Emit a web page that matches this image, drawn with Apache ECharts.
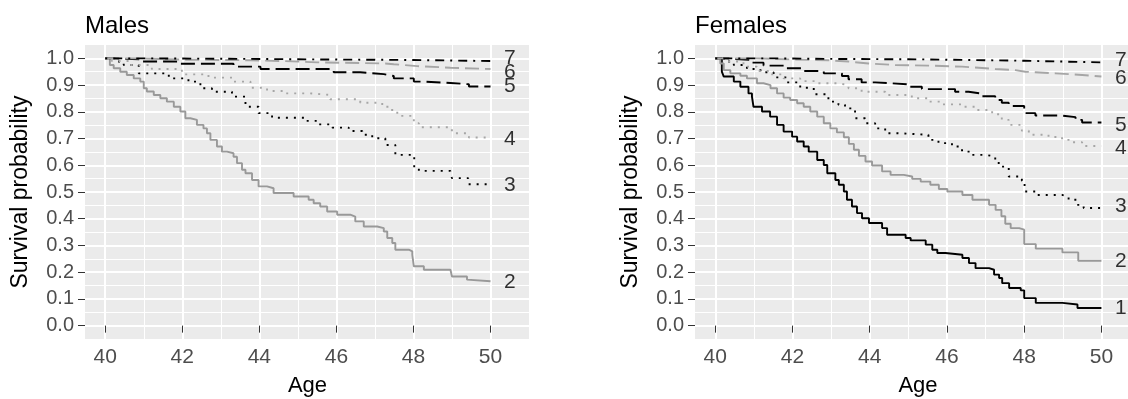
<!DOCTYPE html>
<html>
<head>
<meta charset="utf-8">
<script src="https://cdn.jsdelivr.net/npm/echarts@6/dist/echarts.min.js"></script>
<style>
  html, body { margin: 0; padding: 0; background: #fff; }
  #chart { width: 1128px; height: 399px; }
</style>
</head>
<body>
<div id="chart"></div>
<script>
// survival curves, [age, survival]
const malesG2 = [[40,1],[40.12,0.975],[40.22,0.963],[40.39,0.95],[40.56,0.938],[40.74,0.925],[40.91,0.913],[41.0,0.888],[41.08,0.876],[41.26,0.863],[41.43,0.851],[41.6,0.838],[41.78,0.819],[41.95,0.801],[42.08,0.776],[42.21,0.77],[42.38,0.751],[42.55,0.738],[42.64,0.72],[42.73,0.695],[42.9,0.67],[43.03,0.651],[43.16,0.645],[43.33,0.632],[43.42,0.608],[43.55,0.583],[43.64,0.57],[43.81,0.545],[43.98,0.521],[44.2,0.514],[44.37,0.496],[44.89,0.483],[45.28,0.471],[45.41,0.458],[45.58,0.446],[45.76,0.427],[46.02,0.415],[46.36,0.408],[46.49,0.39],[46.71,0.371],[47.06,0.365],[47.23,0.352],[47.32,0.328],[47.45,0.309],[47.53,0.284],[47.88,0.278],[47.97,0.265],[48.01,0.222],[48.27,0.209],[48.96,0.203],[49.0,0.184],[49.39,0.172],[49.44,0.166],[50,0.166]];
const malesG3 = [[40,1],[40.26,0.988],[40.48,0.975],[40.87,0.944],[41.65,0.925],[42.16,0.913],[42.47,0.888],[42.77,0.875],[43.29,0.857],[43.64,0.819],[43.98,0.795],[44.33,0.778],[45.19,0.766],[45.54,0.753],[45.89,0.741],[46.32,0.728],[46.67,0.714],[46.93,0.701],[47.27,0.676],[47.53,0.639],[48.02,0.592],[48.14,0.579],[48.96,0.57],[49.0,0.552],[49.42,0.529],[50,0.529]];
const malesG4 = [[40,1],[40.17,0.99],[40.61,0.975],[41.21,0.96],[41.99,0.94],[42.68,0.928],[43.29,0.913],[43.77,0.89],[44.2,0.878],[44.68,0.869],[45.32,0.863],[45.84,0.847],[46.62,0.834],[47.19,0.819],[47.4,0.807],[47.58,0.785],[48.01,0.757],[48.14,0.742],[48.96,0.731],[49.05,0.72],[49.44,0.704],[50,0.704]];
const malesG5 = [[40,1],[40.22,0.996],[40.91,0.988],[41.95,0.98],[43.33,0.969],[44.03,0.96],[45.93,0.948],[46.62,0.941],[47.23,0.934],[47.49,0.925],[48.01,0.913],[48.27,0.908],[48.96,0.903],[49.44,0.895],[50,0.895]];
const malesG6 = [[40,1],[40.78,0.995],[42.08,0.993],[43.77,0.99],[44.63,0.985],[45.5,0.981],[47.27,0.978],[47.49,0.971],[48.1,0.965],[48.96,0.96],[50,0.96]];
const malesG7 = [[40,1],[41.0,0.998],[43.77,0.996],[45.5,0.994],[47.9,0.99],[50,0.99]];

const femalesG1 = [[40,1],[40.17,0.95],[40.22,0.932],[40.48,0.913],[40.65,0.894],[40.86,0.869],[40.95,0.857],[40.99,0.819],[41.21,0.801],[41.42,0.782],[41.6,0.751],[41.77,0.726],[41.99,0.707],[42.12,0.689],[42.29,0.67],[42.42,0.651],[42.64,0.62],[42.81,0.601],[42.9,0.57],[43.11,0.545],[43.2,0.527],[43.33,0.502],[43.41,0.471],[43.54,0.446],[43.67,0.421],[43.8,0.402],[43.98,0.384],[44.32,0.365],[44.45,0.34],[44.93,0.328],[45.06,0.319],[45.45,0.303],[45.62,0.284],[45.75,0.272],[45.96,0.265],[46.4,0.253],[46.57,0.234],[46.74,0.215],[47.09,0.209],[47.22,0.191],[47.35,0.178],[47.43,0.159],[47.61,0.141],[47.91,0.132],[48.0,0.103],[48.3,0.085],[48.99,0.079],[49.38,0.066],[50,0.066]];
const femalesG2 = [[40,1],[40.13,0.981],[40.22,0.956],[40.39,0.944],[40.65,0.935],[40.82,0.925],[41.08,0.907],[41.25,0.9],[41.43,0.888],[41.6,0.869],[41.77,0.853],[41.94,0.844],[42.12,0.832],[42.29,0.819],[42.46,0.801],[42.64,0.782],[42.81,0.757],[42.98,0.738],[43.15,0.723],[43.33,0.705],[43.46,0.68],[43.59,0.658],[43.72,0.635],[43.89,0.614],[44.06,0.599],[44.32,0.577],[44.54,0.564],[44.88,0.558],[45.1,0.549],[45.32,0.539],[45.57,0.527],[45.79,0.511],[46.01,0.502],[46.4,0.489],[46.66,0.471],[47.09,0.452],[47.26,0.433],[47.41,0.409],[47.51,0.381],[47.65,0.365],[47.87,0.359],[48.0,0.305],[48.3,0.288],[48.99,0.274],[49.4,0.243],[50,0.243]];
const femalesG3 = [[40,1],[40.22,0.988],[40.48,0.975],[40.82,0.96],[41.17,0.948],[41.51,0.929],[41.86,0.91],[42.2,0.89],[42.55,0.866],[42.93,0.838],[43.19,0.826],[43.36,0.813],[43.62,0.776],[43.88,0.757],[44.14,0.738],[44.4,0.72],[44.74,0.714],[45.52,0.695],[45.78,0.683],[46.13,0.67],[46.39,0.651],[46.65,0.639],[46.99,0.633],[47.25,0.62],[47.34,0.595],[47.6,0.558],[47.94,0.542],[48.01,0.502],[48.29,0.489],[48.98,0.483],[49.15,0.471],[49.37,0.452],[49.54,0.44],[50,0.44]];
const femalesG4 = [[40,1],[40.22,0.988],[40.73,0.969],[41.08,0.953],[41.43,0.94],[41.77,0.925],[42.2,0.915],[42.64,0.907],[43.19,0.9],[43.45,0.888],[43.79,0.875],[44.4,0.863],[45.09,0.851],[45.52,0.838],[45.87,0.828],[46.39,0.819],[46.73,0.807],[47.17,0.791],[47.42,0.77],[47.6,0.751],[47.94,0.729],[48.12,0.714],[48.63,0.706],[48.98,0.695],[49.24,0.686],[49.5,0.672],[50,0.672]];
const femalesG5 = [[40,1],[40.3,0.994],[40.91,0.984],[41.25,0.973],[41.77,0.963],[42.29,0.953],[42.81,0.944],[43.28,0.934],[43.45,0.922],[43.79,0.91],[44.14,0.903],[45.0,0.894],[45.35,0.885],[46.21,0.875],[46.56,0.868],[46.91,0.858],[47.25,0.844],[47.42,0.834],[47.6,0.822],[48.0,0.795],[48.29,0.786],[48.98,0.78],[49.33,0.77],[49.5,0.76],[50,0.76]];
const femalesG6 = [[40,1],[41.08,0.996],[41.94,0.993],[42.93,0.988],[43.45,0.981],[43.97,0.975],[44.66,0.973],[45.52,0.969],[46.39,0.965],[46.82,0.96],[47.25,0.956],[47.77,0.95],[48.03,0.944],[48.81,0.941],[49.15,0.938],[49.5,0.932],[50,0.932]];
const femalesG7 = [[40,1],[41.5,0.998],[43.0,0.996],[45.5,0.991],[48.0,0.988],[49.0,0.985],[50,0.984]];

// curve labels at the right end of each panel
const labelAge = 50.5;
const malesLabelNames = ["2", "3", "4", "5", "6", "7"];
const malesLabelY = [0.164, 0.525, 0.697, 0.894, 0.947, 1.0];
const femalesLabelNames = ["1", "2", "3", "4", "5", "6", "7"];
const femalesLabelY = [0.064, 0.24, 0.446, 0.665, 0.749, 0.926, 0.994];

// axis ticks
const ageTicks = [40, 42, 44, 46, 48, 50];
const ageMinor = [41, 43, 45, 47, 49, 51];
const survTicks = [0, 0.1, 0.2, 0.3, 0.4, 0.5, 0.6, 0.7, 0.8, 0.9, 1.0];
const survMinor = [0.05, 0.15, 0.25, 0.35, 0.45, 0.55, 0.65, 0.75, 0.85, 0.95];

const FONT = "'Liberation Sans', Arial, sans-serif";

// line look per group
const groupStyle = {
  1: { color: "#000000", type: "solid" },
  2: { color: "#999999", type: "solid" },
  3: { color: "#000000", type: [2, 6] },
  4: { color: "#A6A6A6", type: [2, 6] },
  5: { color: "#000000", type: [14, 6] },
  6: { color: "#A6A6A6", type: [14, 6] },
  7: { color: "#000000", type: [2, 6, 9, 6] }
};

const majorX = (gi) => ({
  type: "value", gridIndex: gi, min: 39.475, max: 51.025,
  axisLine: { show: false },
  axisTick: { show: true, length: 7, lineStyle: { color: "#333333", width: 1 }, customValues: ageTicks },
  axisLabel: { customValues: ageTicks, color: "#4D4D4D", fontSize: 21, margin: 8, fontFamily: FONT },
  splitLine: { show: true, lineStyle: { color: "#FFFFFF", width: 2 } },
  name: "Age", nameLocation: "middle", nameGap: 36,
  nameTextStyle: { color: "#000000", fontSize: 22, fontFamily: FONT }
});
const minorX = (gi) => ({
  type: "value", gridIndex: gi, min: 39.475, max: 51.025, position: "bottom",
  axisLine: { show: false },
  axisTick: { show: false, customValues: ageMinor },
  axisLabel: { show: false, customValues: ageMinor },
  splitLine: { show: true, lineStyle: { color: "#FFFFFF", width: 1 } }
});
const majorY = (gi) => ({
  type: "value", gridIndex: gi, min: -0.05, max: 1.05,
  axisLine: { show: false },
  axisTick: { show: true, length: 7, lineStyle: { color: "#333333", width: 1 }, customValues: survTicks },
  axisLabel: { customValues: survTicks, color: "#4D4D4D", fontSize: 20, margin: 11, fontFamily: FONT,
    formatter: (v) => v.toFixed(1) },
  splitLine: { show: true, lineStyle: { color: "#FFFFFF", width: 2 } },
  name: "Survival probability", nameLocation: "middle", nameGap: 53,
  nameTextStyle: { color: "#000000", fontSize: 23, fontFamily: FONT }
});
const minorY = (gi) => ({
  type: "value", gridIndex: gi, min: -0.05, max: 1.05, position: "left",
  axisLine: { show: false },
  axisTick: { show: false, customValues: survMinor },
  axisLabel: { show: false, customValues: survMinor },
  splitLine: { show: true, lineStyle: { color: "#FFFFFF", width: 1 } }
});

const curve = (data, group, axisIdx) => ({
  type: "line", step: "end", data: data,
  xAxisIndex: axisIdx, yAxisIndex: axisIdx,
  symbol: "none", showSymbol: false, silent: true, animation: false,
  lineStyle: { width: 1.9, color: groupStyle[group].color, type: groupStyle[group].type },
  emphasis: { disabled: true }, z: 3
});

const labels = (names, ys, axisIdx) => ({
  type: "scatter", xAxisIndex: axisIdx, yAxisIndex: axisIdx,
  symbolSize: 1, itemStyle: { color: "rgba(0,0,0,0)" }, silent: true, animation: false,
  clip: false,
  label: { show: true, position: "inside", formatter: "{b}", color: "#000000", fontSize: 21, fontFamily: FONT },
  data: names.map((n, i) => ({ name: n, value: [labelAge, ys[i]] })), z: 4
});

const chart = echarts.init(document.getElementById("chart"));
chart.setOption({
  backgroundColor: "#FFFFFF",
  animation: false,
  title: [
    { text: "Males", left: 85, top: 14, padding: 0, textStyle: { fontSize: 24, fontWeight: "normal", color: "#000000", fontFamily: FONT } },
    { text: "Females", left: 695, top: 14, padding: 0, textStyle: { fontSize: 24, fontWeight: "normal", color: "#000000", fontFamily: FONT } }
  ],
  grid: [
    { left: 85, top: 45, width: 445, height: 294, show: true, backgroundColor: "#EBEBEB", borderWidth: 0, outerBoundsMode: "none" },
    { left: 695, top: 45, width: 446, height: 294, show: true, backgroundColor: "#EBEBEB", borderWidth: 0, outerBoundsMode: "none" }
  ],
  // axes 0,1 = males (major, minor); 2,3 = females
  xAxis: [majorX(0), minorX(0), majorX(1), minorX(1)],
  yAxis: [majorY(0), minorY(0), majorY(1), minorY(1)],
  series: [
    curve(malesG2, 2, 0), curve(malesG3, 3, 0), curve(malesG4, 4, 0),
    curve(malesG5, 5, 0), curve(malesG6, 6, 0), curve(malesG7, 7, 0),
    labels(malesLabelNames, malesLabelY, 0),
    curve(femalesG1, 1, 2), curve(femalesG2, 2, 2), curve(femalesG3, 3, 2), curve(femalesG4, 4, 2),
    curve(femalesG5, 5, 2), curve(femalesG6, 6, 2), curve(femalesG7, 7, 2),
    labels(femalesLabelNames, femalesLabelY, 2)
  ]
});
</script>
</body>
</html>
